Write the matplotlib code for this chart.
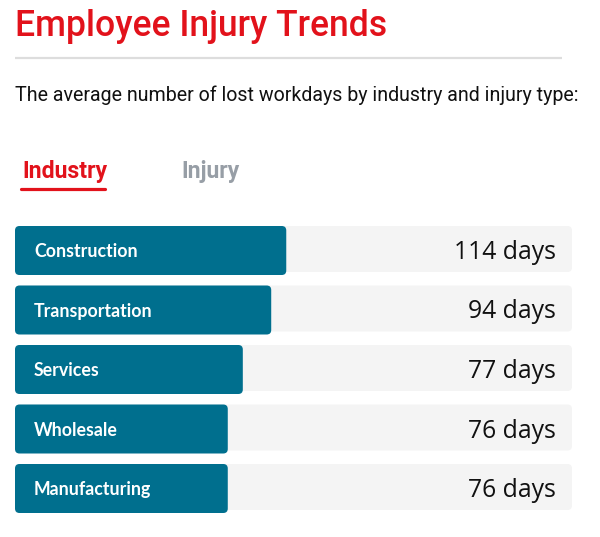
import matplotlib
matplotlib.use("Agg")
import matplotlib.pyplot as plt
from matplotlib.patches import FancyBboxPatch

# ---- data ----
title = "Employee Injury Trends"
subtitle = "The average number of lost workdays by industry and injury type:"
tabs = ["Industry", "Injury"]
industries = ["Construction", "Transportation", "Services", "Wholesale", "Manufacturing"]
lost_days = [114, 94, 77, 76, 76]
bar_share = [48.7, 46.0, 40.9, 38.2, 38.2]   # bar length, % of the track

# ---- style ----
W, H = 600, 537
RED = "#e2121b"
TEAL = "#006f8e"
TRACK = "#f4f4f4"
RULE = "#dddddd"
TABGRAY = "#979ea6"

fig = plt.figure(figsize=(W / 100, H / 100), dpi=100)
bg = fig.add_axes([0, 0, 1, 1])
bg.set_xlim(0, W)
bg.set_ylim(H, 0)
bg.axis("off")

renderer = fig.canvas.get_renderer()


def fit(t, width_px):
    for _ in range(3):
        bb = t.get_window_extent(renderer)
        t.set_fontsize(t.get_fontsize() * width_px / bb.width)


t_title = bg.text(15, 35.7, title, va="baseline", ha="left", color=RED,
                  fontfamily="Roboto", fontweight="medium", fontsize=26)
fit(t_title, 372)

bg.plot([15, 562], [58, 58], color=RULE, lw=1.6, solid_capstyle="butt")

t_sub = bg.text(15, 100.7, subtitle, va="baseline", ha="left", color="#111111",
                fontfamily="Roboto", fontsize=14)
fit(t_sub, 565)

t_tab1 = bg.text(22, 177.7, tabs[0], va="baseline", ha="left", color=RED,
                 fontfamily="Roboto", fontweight="bold", fontsize=16)
fit(t_tab1, 85)
bg.text(181.7, 177.7, tabs[1], va="baseline", ha="left", color=TABGRAY,
        fontfamily="Roboto", fontweight="bold", fontsize=t_tab1.get_fontsize())
bg.plot([21, 105], [189, 189], color=RED, lw=2.3, solid_capstyle="round")

# ---- bars ----
left_px, right_px = 15, 572
top_px, bottom_px = 226, 513
pitch = 59.5
bar_h = 49 / pitch
track_h = 46 / pitch
n = len(industries)
ax = fig.add_axes([left_px / W, (H - bottom_px) / H,
                   (right_px - left_px) / W, (bottom_px - top_px) / H])
ax.set_xlim(0, 100)
ax.set_ylim((n - 1) + bar_h, 0)
ax.axis("off")

rows = list(range(n))
tracks = ax.barh(rows, [100] * n, height=track_h, left=0, align="edge", color=TRACK)
bars = ax.barh(rows, bar_share, height=bar_h, left=0, align="edge", color=TEAL)

px_x = (right_px - left_px) / 100
px_y = pitch
r_px = 4.5


def roundify(container, z):
    for p in container.patches:
        x, y, w, h = p.get_x(), p.get_y(), p.get_width(), p.get_height()
        fc = p.get_facecolor()
        p.remove()
        fb = FancyBboxPatch((x, y), w, h,
                            boxstyle=f"round,pad=0,rounding_size={r_px / px_x}",
                            mutation_aspect=px_x / px_y,
                            facecolor=fc, edgecolor="none", zorder=z)
        ax.add_patch(fb)


roundify(tracks, 1)
roundify(bars, 2)

lab_fs = None
for i, (name, v) in enumerate(zip(industries, lost_days)):
    t = ax.annotate(name, xy=(0, i + 31 / pitch), xytext=(19, 0),
                    textcoords="offset pixels", va="baseline", ha="left",
                    color="white", fontfamily="Lato", fontweight="bold",
                    fontsize=13, zorder=3)
    if i == 0:
        fit(t, 103)
        lab_fs = t.get_fontsize()
    else:
        t.set_fontsize(lab_fs)

day_fs = None
for i, v in enumerate(lost_days):
    t = ax.annotate(f"{v} days", xy=(100, i + 33 / pitch), xytext=(-16, 0),
                    textcoords="offset pixels", va="baseline", ha="right",
                    color="#111111", fontfamily="Open Sans", fontsize=18, zorder=3)
    if i == 0:
        fit(t, 102)
        day_fs = t.get_fontsize()
    else:
        t.set_fontsize(day_fs)

fig.savefig("out.png", dpi=100)
